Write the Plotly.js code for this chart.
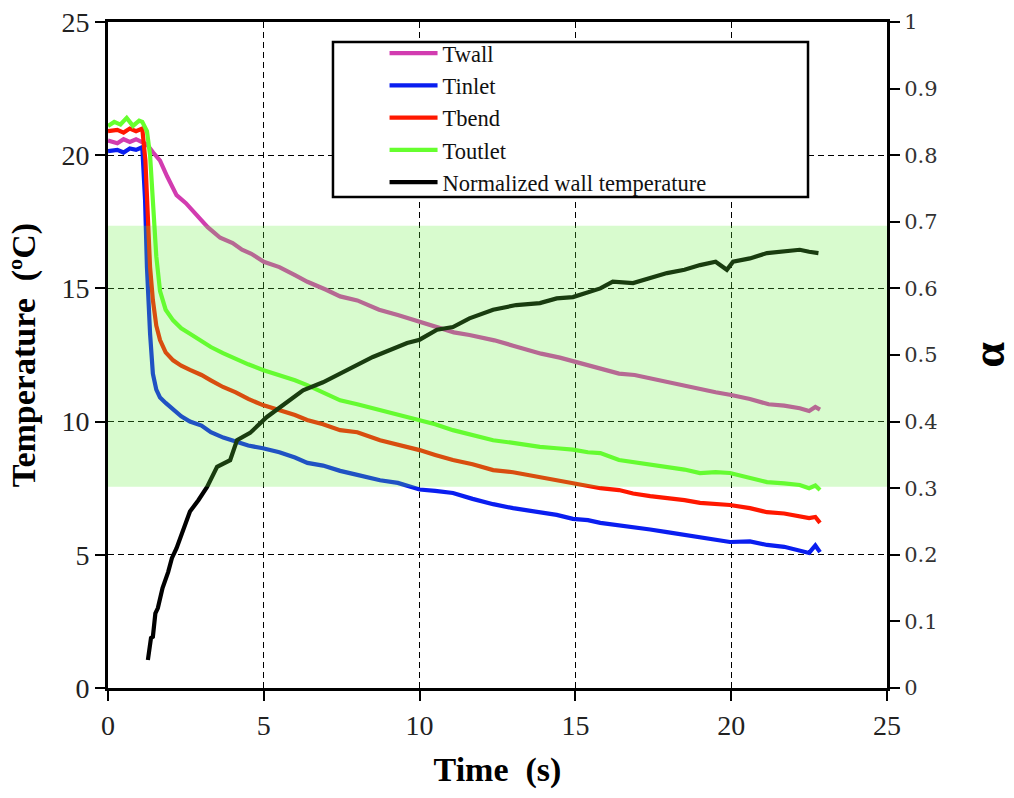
<!DOCTYPE html>
<html>
<head>
<meta charset="utf-8">
<script src="https://cdn.plot.ly/plotly-3.0.1.min.js"></script>
<style>
  html, body { margin: 0; padding: 0; background: #fff; }
  #chart { width: 1014px; height: 798px; }
</style>
</head>
<body>
<div id="chart"></div>
<script>
// ---- Data ----
const seriesNames = ["Twall", "Tinlet", "Tbend", "Toutlet", "Normalized wall temperature"];

const tWall = [0, 0.3, 0.5, 0.7, 0.9, 1.1, 1.25, 1.45, 1.67, 1.9, 2.2, 2.5, 2.8, 3.2, 3.6, 4.0, 4.3, 4.6, 5.0, 5.5, 6.0, 6.4, 7.0, 7.45, 8.0, 8.7, 9.3, 10.0, 10.5, 11.1, 11.6, 12.4, 13.0, 13.9, 14.5, 15.0, 15.8, 16.4, 16.9, 17.5, 17.9, 18.5, 19.0, 19.5, 20.0, 20.6, 21.2, 21.7, 22.2, 22.5, 22.7, 22.85];
const Twall = [20.55, 20.45, 20.6, 20.5, 20.6, 20.5, 20.4, 20.1, 19.8, 19.2, 18.5, 18.2, 17.8, 17.3, 16.9, 16.7, 16.45, 16.3, 16.0, 15.8, 15.5, 15.25, 14.95, 14.7, 14.55, 14.2, 14.0, 13.75, 13.6, 13.35, 13.25, 13.05, 12.85, 12.55, 12.4, 12.25, 12.0, 11.8, 11.75, 11.6, 11.5, 11.35, 11.2, 11.1, 11.0, 10.85, 10.65, 10.6, 10.5, 10.4, 10.55, 10.45];

const tInlet = [0, 0.3, 0.5, 0.7, 0.9, 1.1, 1.19, 1.25, 1.35, 1.44, 1.55, 1.67, 1.85, 2.09, 2.35, 2.63, 3.0, 3.3, 3.7, 4.1, 4.5, 4.97, 5.5, 6.0, 6.4, 6.9, 7.45, 8.0, 8.73, 9.3, 10.0, 10.5, 11.07, 11.7, 12.36, 13.0, 13.86, 14.4, 14.92, 15.4, 15.8, 16.4, 16.85, 17.4, 17.94, 18.5, 19.0, 19.5, 19.96, 20.6, 21.15, 21.7, 22.2, 22.5, 22.7, 22.85];
const Tinlet = [20.15, 20.2, 20.1, 20.25, 20.2, 20.3, 18.3, 15.8, 13.3, 11.8, 11.2, 10.9, 10.7, 10.45, 10.2, 10.0, 9.85, 9.6, 9.4, 9.25, 9.1, 9.0, 8.85, 8.65, 8.45, 8.35, 8.15, 8.0, 7.8, 7.7, 7.45, 7.4, 7.32, 7.1, 6.9, 6.75, 6.6, 6.5, 6.35, 6.3, 6.2, 6.12, 6.05, 5.95, 5.85, 5.75, 5.67, 5.6, 5.48, 5.5, 5.37, 5.3, 5.18, 5.07, 5.35, 5.1];

const tBend = [0, 0.3, 0.5, 0.7, 0.9, 1.1, 1.2, 1.25, 1.35, 1.44, 1.55, 1.67, 1.85, 2.09, 2.35, 2.63, 3.0, 3.3, 3.69, 4.1, 4.5, 4.97, 5.5, 6.0, 6.39, 6.9, 7.45, 8.0, 8.73, 9.3, 10.0, 10.5, 11.07, 11.7, 12.36, 13.0, 13.86, 14.4, 14.92, 15.4, 15.8, 16.4, 16.85, 17.4, 17.94, 18.5, 19.0, 19.5, 19.96, 20.6, 21.15, 21.7, 22.2, 22.5, 22.7, 22.85];
const Tbend = [20.9, 20.95, 20.85, 21.0, 20.9, 21.0, 19.8, 18.3, 15.8, 14.56, 13.6, 13.06, 12.6, 12.3, 12.1, 11.94, 11.75, 11.55, 11.3, 11.1, 10.85, 10.62, 10.45, 10.25, 10.06, 9.9, 9.68, 9.6, 9.3, 9.15, 8.93, 8.75, 8.56, 8.4, 8.18, 8.1, 7.92, 7.8, 7.7, 7.6, 7.5, 7.43, 7.3, 7.2, 7.13, 7.05, 6.95, 6.9, 6.87, 6.75, 6.6, 6.55, 6.45, 6.38, 6.42, 6.2];

const tOutlet = [0, 0.2, 0.4, 0.6, 0.8, 1.0, 1.1, 1.25, 1.35, 1.45, 1.55, 1.67, 1.85, 2.09, 2.35, 2.63, 3.0, 3.3, 3.69, 4.1, 4.5, 4.97, 5.5, 6.0, 6.39, 6.9, 7.45, 8.0, 8.73, 9.3, 10.0, 10.5, 11.07, 11.7, 12.36, 13.0, 13.86, 14.4, 14.92, 15.4, 15.8, 16.4, 16.85, 17.4, 17.94, 18.5, 19.0, 19.5, 19.96, 20.6, 21.15, 21.7, 22.2, 22.5, 22.7, 22.85];
const Toutlet = [21.1, 21.25, 21.15, 21.4, 21.1, 21.3, 21.25, 20.9, 20.0, 18.0, 16.2, 14.9, 14.2, 13.8, 13.5, 13.3, 13.0, 12.8, 12.57, 12.35, 12.15, 11.94, 11.75, 11.55, 11.37, 11.1, 10.8, 10.65, 10.43, 10.25, 10.06, 9.9, 9.68, 9.5, 9.3, 9.2, 9.05, 9.0, 8.95, 8.85, 8.82, 8.56, 8.48, 8.4, 8.3, 8.2, 8.07, 8.1, 8.07, 7.9, 7.73, 7.68, 7.62, 7.5, 7.6, 7.43];

const tAlpha = [1.28, 1.38, 1.44, 1.52, 1.6, 1.75, 1.93, 2.05, 2.2, 2.4, 2.63, 2.9, 3.18, 3.5, 3.92, 4.14, 4.56, 5.1, 5.52, 6.26, 6.9, 7.67, 8.5, 9.6, 10.0, 10.56, 11.07, 11.6, 12.36, 13.1, 13.86, 14.4, 14.92, 15.8, 16.2, 16.85, 17.4, 17.94, 18.5, 19.0, 19.5, 19.86, 20.06, 20.6, 21.15, 21.7, 22.2, 22.5, 22.8];
const alpha = [0.042, 0.075, 0.077, 0.112, 0.12, 0.15, 0.174, 0.195, 0.21, 0.235, 0.265, 0.282, 0.302, 0.332, 0.342, 0.372, 0.383, 0.407, 0.422, 0.447, 0.459, 0.477, 0.497, 0.518, 0.523, 0.538, 0.542, 0.555, 0.568, 0.575, 0.578, 0.585, 0.587, 0.60, 0.61, 0.608, 0.615, 0.623, 0.628, 0.635, 0.64, 0.628, 0.64, 0.645, 0.653, 0.655, 0.658, 0.655, 0.653];

// shaded band (temperature range)
const bandLow = 7.55, bandHigh = 17.35;

const xTicks = [0, 5, 10, 15, 20, 25];
const yTicks = [0, 5, 10, 15, 20, 25];
const y2Ticks = [0, 0.1, 0.2, 0.3, 0.4, 0.5, 0.6, 0.7, 0.8, 0.9, 1];

const colors = ["#D23CB0", "#0A1EF0", "#FF1800", "#66FF2E", "#000000"];

const serif = "Liberation Serif, Times New Roman, serif";

const traces = [
  {x: tWall, y: Twall, name: seriesNames[0], color: colors[0], axis: "y"},
  {x: tInlet, y: Tinlet, name: seriesNames[1], color: colors[1], axis: "y"},
  {x: tBend, y: Tbend, name: seriesNames[2], color: colors[2], axis: "y"},
  {x: tOutlet, y: Toutlet, name: seriesNames[3], color: colors[3], axis: "y"},
  {x: tAlpha, y: alpha, name: seriesNames[4], color: colors[4], axis: "y2"}
].map((s) => ({
  type: "scatter", mode: "lines", x: s.x, y: s.y, name: s.name, yaxis: s.axis,
  line: {color: s.color, width: 4.2, shape: "linear"},
  hoverinfo: "skip"
}));

const layout = {
  width: 1014, height: 798,
  margin: {l: 108, r: 127, t: 22, b: 110},
  paper_bgcolor: "#ffffff", plot_bgcolor: "#ffffff",
  showlegend: true,
  legend: {
    x: 0.355, xanchor: "left", y: 0.985, yanchor: "top",
    bgcolor: "rgba(0,0,0,0)", borderwidth: 0,
    font: {family: serif, size: 22.5, color: "#111"},
    itemwidth: 48, tracegroupgap: 0
  },
  xaxis: {
    range: [0, 25], tickvals: xTicks, ticktext: xTicks.map(String),
    showline: true, linecolor: "#000", linewidth: 3, mirror: true,
    ticks: "outside", ticklen: 10, tickwidth: 2, tickcolor: "#000",
    showgrid: true, gridcolor: "#000", gridwidth: 1.3, griddash: "6px,4px",
    zeroline: false,
    tickfont: {family: serif, size: 28, color: "#222"},
    title: {text: "Time  (s)", font: {family: serif, size: 34, color: "#000", weight: "bold"}, standoff: 18}
  },
  yaxis: {
    range: [0, 25], tickvals: yTicks, ticktext: yTicks.map(String),
    showline: true, linecolor: "#000", linewidth: 3,
    ticks: "outside", ticklen: 10, tickwidth: 2, tickcolor: "#000",
    showgrid: true, gridcolor: "#000", gridwidth: 1.3, griddash: "6px,4px",
    zeroline: false,
    tickfont: {family: serif, size: 28, color: "#222"},
    title: {text: "Temperature  (ºC)", font: {family: serif, size: 34, color: "#000", weight: "bold"}, standoff: 16}
  },
  yaxis2: {
    range: [0, 1], tickvals: y2Ticks, ticktext: y2Ticks.map(String),
    overlaying: "y", side: "right",
    showline: true, linecolor: "#000", linewidth: 3,
    ticks: "outside", ticklen: 10, tickwidth: 2, tickcolor: "#000",
    showgrid: false, zeroline: false,
    tickfont: {family: "DejaVu Serif, serif", size: 21, color: "#333"},
    title: {text: "α", font: {family: serif, size: 46, color: "#000", weight: "bold"}, standoff: 36}
  },
  shapes: [
    {type: "rect", layer: "above", xref: "paper", yref: "y",
     x0: 0, x1: 1, y0: bandLow, y1: bandHigh,
     fillcolor: "rgba(100,238,60,0.25)", line: {width: 0}},
    {type: "rect", layer: "above", xref: "paper", yref: "paper",
     x0: 0.2888, x1: 0.8986, y0: 0.7372, y1: 0.970,
     fillcolor: "#ffffff", line: {color: "#000", width: 2.5}}
  ]
};

Plotly.newPlot("chart", traces, layout, {staticPlot: true, displayModeBar: false});
</script>
</body>
</html>
